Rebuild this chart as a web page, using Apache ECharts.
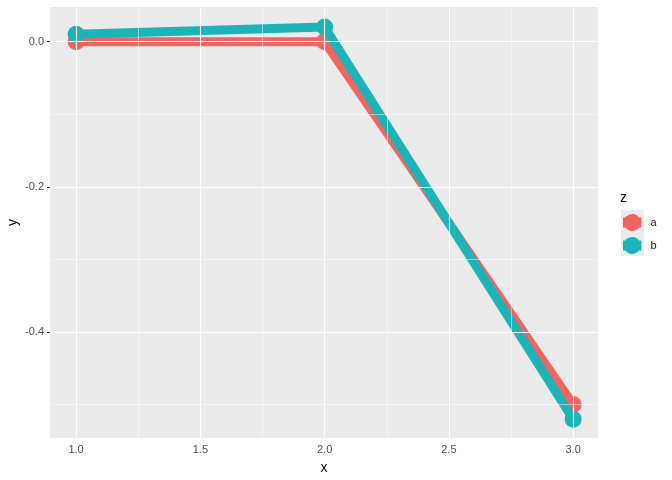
<!DOCTYPE html>
<html>
<head>
<meta charset="utf-8">
<script src="https://cdn.jsdelivr.net/npm/echarts@6/dist/echarts.min.js"></script>
<style>
  html, body { margin: 0; padding: 0; background: #fff; }
  #chart { width: 672px; height: 480px; }
</style>
</head>
<body>
<div id="chart"></div>
<script>
// data
const xValues = [1, 2, 3];
const seriesA = [0, 0, -0.5];
const seriesB = [0.01, 0.02, -0.52];
const groupNames = ['a', 'b'];
const groupColors = ['#f4645e', '#1cb4b9'];

// axis ticks / grid lines
const xMajor = [1.0, 1.5, 2.0, 2.5, 3.0];
const xMinor = [1.25, 1.75, 2.25, 2.75];
const yMajor = [-0.4, -0.2, 0.0];
const yMinor = [-0.5, -0.3, -0.1];

const pairs = (vals) => xValues.map((x, i) => [x, vals[i]]);

// legend key: point with a short thick line through it
const keyIcon = 'path://M18.37,6.5 A8.5,8.5 0 0 0 4.63,6.5 L2.3,6.5 L2.3,16.5 L4.63,16.5 ' +
  'A8.5,8.5 0 0 0 18.37,16.5 L20.7,16.5 L20.7,6.5 Z';

const gridLines = [
  ...xMajor.map(v => ({ xAxis: v, lineStyle: { width: 1.1 } })),
  ...xMinor.map(v => ({ xAxis: v, lineStyle: { width: 0.5 } })),
  ...yMajor.map(v => ({ yAxis: v, lineStyle: { width: 1.1 } })),
  ...yMinor.map(v => ({ yAxis: v, lineStyle: { width: 0.5 } }))
];

const chart = echarts.init(document.getElementById('chart'), null, { renderer: 'canvas' });

const tickLabel = { color: '#4d4d4d', fontSize: 11, fontFamily: 'Liberation Sans, Arial, sans-serif' };

chart.setOption({
  animation: false,
  textStyle: { fontFamily: 'Liberation Sans, Arial, sans-serif' },
  grid: {
    left: 50, right: 74, top: 7, bottom: 42,
    show: true, backgroundColor: '#ebebeb', borderWidth: 0,
    containLabel: false, outerBoundsMode: 'none'
  },
  xAxis: {
    type: 'value', min: 0.895, max: 3.1,
    name: 'x', nameLocation: 'middle', nameGap: 23, nameMoveOverlap: false,
    nameTextStyle: { color: '#000', fontSize: 14 },
    axisLine: { show: false },
    splitLine: { show: false },
    axisTick: { show: true, length: 3, lineStyle: { color: '#333', width: 1 }, customValues: xMajor },
    axisLabel: Object.assign({ margin: 6, formatter: v => v.toFixed(1), customValues: xMajor }, tickLabel)
  },
  yAxis: {
    type: 'value', min: -0.546, max: 0.0477,
    name: 'y', nameLocation: 'middle', nameGap: 30, nameRotate: 90, nameMoveOverlap: false,
    nameTextStyle: { color: '#000', fontSize: 14 },
    axisLine: { show: false },
    splitLine: { show: false },
    axisTick: { show: true, length: 3, lineStyle: { color: '#333', width: 1 }, customValues: yMajor },
    axisLabel: Object.assign({ margin: 6, formatter: v => v.toFixed(1), customValues: yMajor }, tickLabel)
  },
  legend: {
    orient: 'vertical',
    left: 623, top: 214, padding: 0,
    itemWidth: 18.4, itemHeight: 17, itemGap: 6,
    icon: keyIcon,
    data: groupNames,
    textStyle: { color: '#1a1a1a', fontSize: 11, padding: [0, 0, 0, 4] }
  },
  graphic: [
    { type: 'rect', left: 621, top: 210, shape: { width: 23, height: 46 }, style: { fill: '#ebebeb' }, z: 0, silent: true },
    { type: 'text', left: 620, top: 191, style: { text: 'z', fontSize: 14, fill: '#000', fontFamily: 'Liberation Sans, Arial, sans-serif' } }
  ],
  series: [
    {
      name: '_grid', type: 'line', data: [], z: 1, silent: true,
      markLine: {
        silent: true, symbol: 'none', label: { show: false },
        lineStyle: { color: '#ffffff', type: 'solid' },
        data: gridLines
      }
    },
    {
      name: groupNames[0], type: 'line', data: pairs(seriesA), z: 2,
      color: groupColors[0], symbol: 'circle', symbolSize: 17,
      lineStyle: { width: 9, join: 'round' }, itemStyle: { color: groupColors[0] }
    },
    {
      name: groupNames[1], type: 'line', data: pairs(seriesB), z: 3,
      color: groupColors[1], symbol: 'circle', symbolSize: 17,
      lineStyle: { width: 9, join: 'round' }, itemStyle: { color: groupColors[1] }
    }
  ]
});
</script>
</body>
</html>
